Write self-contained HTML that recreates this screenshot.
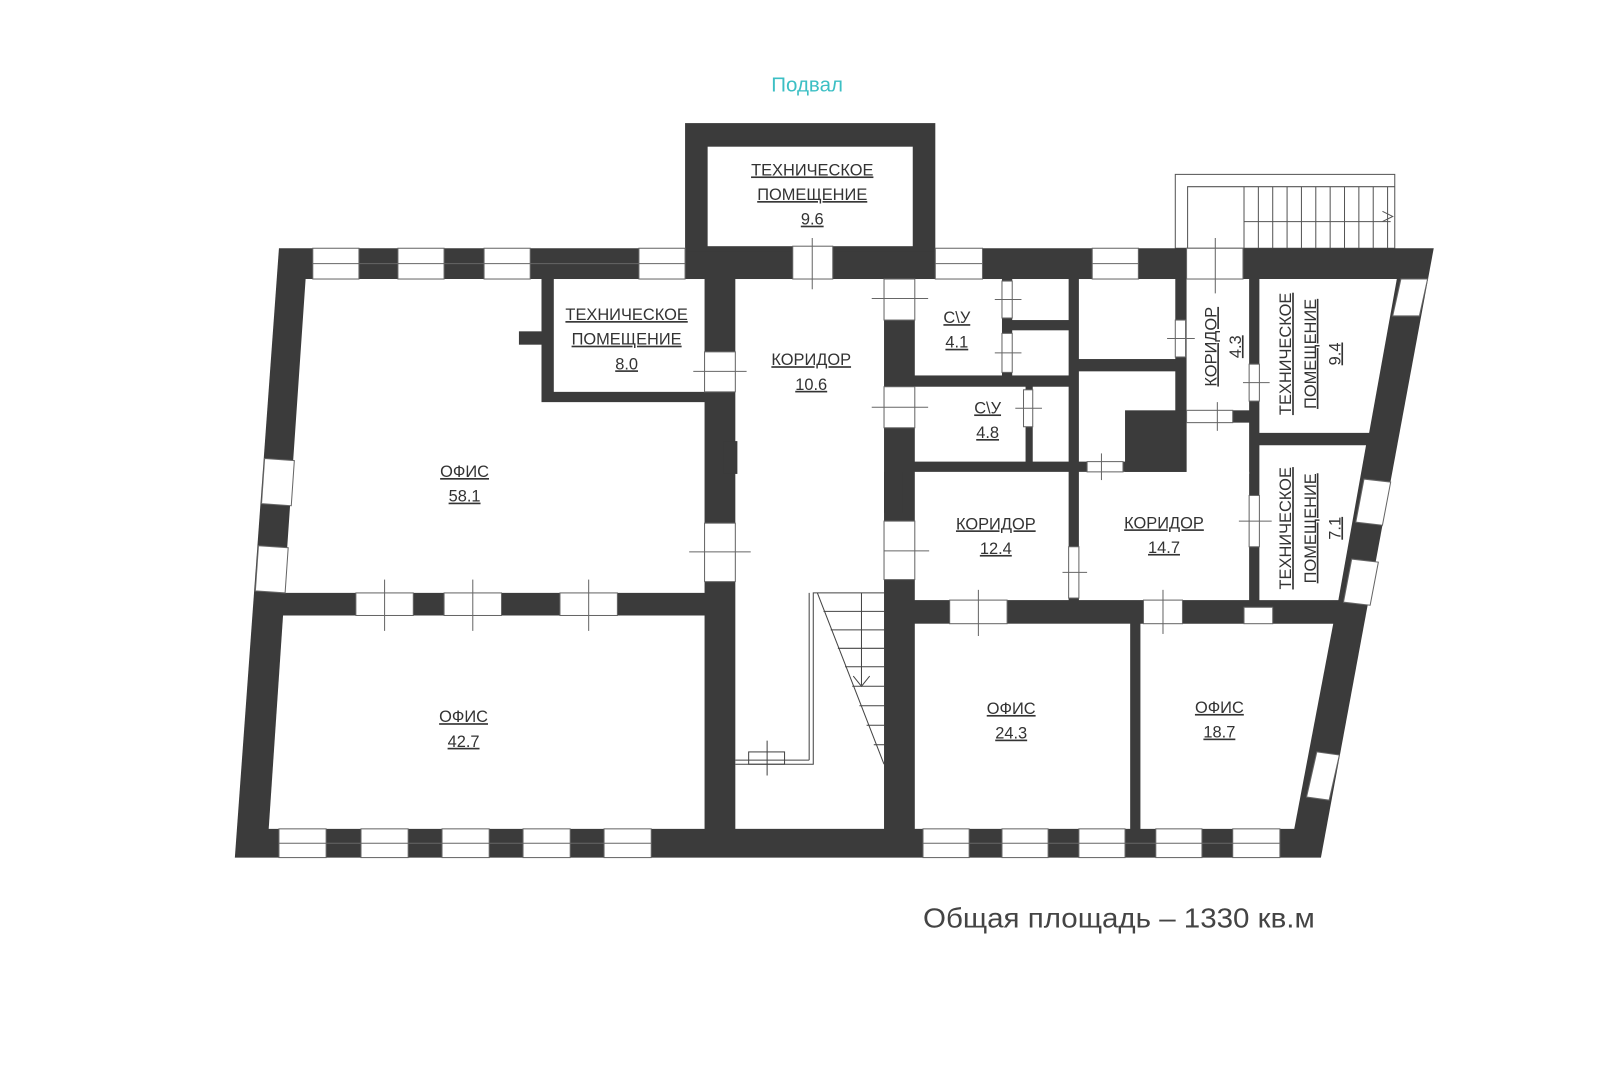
<!DOCTYPE html>
<html><head><meta charset="utf-8"><style>
html,body{margin:0;padding:0;background:#fff;width:1605px;height:1073px;overflow:hidden}
svg{display:block}
.t{font-family:"Liberation Sans","DejaVu Sans",sans-serif;font-size:16px;fill:#333;text-anchor:middle;text-decoration:underline}
</style></head><body>
<svg width="1605" height="1073" viewBox="0 0 1565 1046" preserveAspectRatio="none" xmlns="http://www.w3.org/2000/svg">
<rect width="1565" height="1046" fill="#fff"/>
<text x="787" y="89" font-family="Liberation Sans,sans-serif" font-size="20" fill="#3cbfc4" text-anchor="middle">Подвал</text>
<g fill="none" stroke="#555" stroke-width="1">
<rect x="1146" y="170" width="214" height="72"/>
<polyline points="1158,242 1158,182 1360,182"/>
<line x1="1213" y1="216" x2="1356" y2="216"/>
<polyline points="1348,206 1358,211 1348,216"/>
</g>
<g stroke="#555" stroke-width="1">
<line x1="1213" y1="182" x2="1213" y2="242"/><line x1="1227" y1="182" x2="1227" y2="242"/><line x1="1241" y1="182" x2="1241" y2="242"/><line x1="1255" y1="182" x2="1255" y2="242"/><line x1="1269" y1="182" x2="1269" y2="242"/><line x1="1283" y1="182" x2="1283" y2="242"/><line x1="1297" y1="182" x2="1297" y2="242"/><line x1="1311" y1="182" x2="1311" y2="242"/><line x1="1325" y1="182" x2="1325" y2="242"/><line x1="1339" y1="182" x2="1339" y2="242"/><line x1="1353" y1="182" x2="1353" y2="242"/>
</g>
<g fill="#3b3b3b">
<polygon points="272,242 1398,242 1288,836 229,836"/>
<rect x="668" y="120" width="244" height="125"/>
</g>
<g fill="#fff">
<rect x="690" y="143" width="200" height="97"/>
<polygon points="298,272 528,272 528,392 687,392 687,578 277,578"/>
<rect x="540" y="272" width="147" height="110"/>
<polygon points="276,600 687,600 687,808 262,808"/>
<rect x="717" y="272" width="145" height="536"/>
<rect x="892" y="272" width="85" height="94"/>
<rect x="987" y="272" width="55" height="40"/>
<rect x="987" y="322" width="55" height="44"/>
<rect x="892" y="377" width="108" height="73"/>
<rect x="1007" y="377" width="35" height="73"/>
<rect x="1052" y="272" width="94" height="78"/>
<rect x="1052" y="362" width="94" height="88"/>
<rect x="1157" y="272" width="61" height="128"/>
<polygon points="1228,272 1362,272 1335,422 1228,422"/>
<polygon points="1228,434 1332,434 1305,585 1228,585"/>
<rect x="892" y="460" width="150" height="125"/>
<rect x="1052" y="460" width="166" height="125"/>
<rect x="1157" y="412" width="61" height="50"/>
<rect x="892" y="608" width="210" height="200"/>
<polygon points="1112,608 1300,608 1262,808 1112,808"/>
</g>
<g fill="#3b3b3b">
<rect x="506" y="323" width="22" height="13"/>
<rect x="1097" y="400" width="60" height="60"/>
<rect x="705" y="430" width="14" height="32"/>
<rect x="862" y="460" width="18" height="40"/>
</g>
<g fill="#fff" stroke="#666" stroke-width="1">
<rect x="305" y="242" width="45" height="30"/><rect x="388" y="242" width="45" height="30"/><rect x="472" y="242" width="45" height="30"/><rect x="623" y="242" width="45" height="30"/><rect x="912" y="242" width="46" height="30"/><rect x="1065" y="242" width="45" height="30"/>
<rect x="773" y="240" width="39" height="32"/><rect x="1157" y="242" width="55" height="30"/>
<rect x="272" y="808" width="46" height="28"/><rect x="352" y="808" width="46" height="28"/><rect x="431" y="808" width="46" height="28"/><rect x="510" y="808" width="46" height="28"/><rect x="589" y="808" width="46" height="28"/>
<rect x="900" y="808" width="45" height="28"/><rect x="977" y="808" width="45" height="28"/><rect x="1052" y="808" width="45" height="28"/><rect x="1127" y="808" width="45" height="28"/><rect x="1202" y="808" width="46" height="28"/>
<rect x="347" y="578" width="56" height="22"/><rect x="433" y="578" width="56" height="22"/><rect x="546" y="578" width="56" height="22"/>
<rect x="687" y="343" width="30" height="39"/><rect x="687" y="510" width="30" height="57"/>
<rect x="862" y="272" width="30" height="40"/><rect x="862" y="377" width="30" height="40"/><rect x="862" y="508" width="30" height="57"/>
<rect x="977" y="274" width="10" height="36"/><rect x="977" y="325" width="10" height="38"/><rect x="998" y="380" width="9" height="36"/>
<rect x="1146" y="312" width="10" height="36"/><rect x="1218" y="355" width="10" height="36"/><rect x="1218" y="483" width="10" height="50"/>
<rect x="1157" y="400" width="45" height="12"/><rect x="1060" y="450" width="35" height="10"/><rect x="1042" y="533" width="10" height="50"/>
<rect x="926" y="585" width="56" height="23"/><rect x="1115" y="585" width="38" height="23"/><rect x="1213" y="592" width="28" height="16"/>
<polygon points="258,447 287,449 284,493 255,491"/><polygon points="252,532 281,534 278,578 249,576"/>
<polygon points="1366,272 1392,272 1384,308 1358,308"/><polygon points="1330,467 1356,470 1348,512 1322,509"/><polygon points="1318,545 1344,548 1336,590 1310,587"/><polygon points="1284,733 1306,736 1296,780 1274,777"/>
</g>
<g stroke="#666" stroke-width="1">
<line x1="305" y1="257" x2="668" y2="257"/><line x1="912" y1="257" x2="958" y2="257"/><line x1="1065" y1="257" x2="1110" y2="257"/>
<line x1="272" y1="822" x2="635" y2="822"/><line x1="900" y1="822" x2="1248" y2="822"/>
<line x1="792" y1="232" x2="792" y2="282"/><line x1="1185" y1="232" x2="1185" y2="286"/>
<line x1="375" y1="565" x2="375" y2="615"/><line x1="461" y1="565" x2="461" y2="615"/><line x1="574" y1="565" x2="574" y2="615"/>
<line x1="676" y1="362" x2="728" y2="362"/><line x1="672" y1="538" x2="732" y2="538"/>
<line x1="850" y1="291" x2="905" y2="291"/><line x1="850" y1="397" x2="905" y2="397"/><line x1="862" y1="537" x2="906" y2="537"/>
<line x1="970" y1="292" x2="996" y2="292"/><line x1="970" y1="344" x2="996" y2="344"/><line x1="990" y1="398" x2="1016" y2="398"/>
<line x1="1138" y1="330" x2="1165" y2="330"/><line x1="1212" y1="373" x2="1238" y2="373"/><line x1="1208" y1="508" x2="1240" y2="508"/>
<line x1="1187" y1="392" x2="1187" y2="420"/><line x1="1074" y1="442" x2="1074" y2="468"/><line x1="1036" y1="558" x2="1060" y2="558"/>
<line x1="954" y1="575" x2="954" y2="620"/><line x1="1134" y1="575" x2="1134" y2="618"/>
</g>
<g fill="none" stroke="#444" stroke-width="1">
<polyline points="717,745 793,745 793,578 862,578"/>
<line x1="789" y1="578" x2="789" y2="741"/>
<line x1="789" y1="741" x2="717" y2="741"/>
<rect x="730" y="733" width="35" height="12"/>
<line x1="748" y1="722" x2="748" y2="756"/>
<line x1="797" y1="578" x2="862" y2="745"/>
<line x1="840" y1="578" x2="840" y2="668"/>
<polyline points="832,659 840,669 848,659"/>
<line x1="803" y1="596" x2="862" y2="596"/><line x1="810" y1="614" x2="862" y2="614"/><line x1="817" y1="632" x2="862" y2="632"/><line x1="824" y1="650" x2="862" y2="650"/><line x1="831" y1="669" x2="862" y2="669"/><line x1="838" y1="688" x2="862" y2="688"/><line x1="845" y1="707" x2="862" y2="707"/><line x1="852" y1="726" x2="862" y2="726"/>
</g>
<g class="t">
<text x="792" y="171">ТЕХНИЧЕСКОЕ</text><text x="792" y="195">ПОМЕЩЕНИЕ</text><text x="792" y="219">9.6</text>
<text x="611" y="312">ТЕХНИЧЕСКОЕ</text><text x="611" y="336">ПОМЕЩЕНИЕ</text><text x="611" y="360">8.0</text>
<text x="791" y="356">КОРИДОР</text><text x="791" y="380">10.6</text>
<text x="453" y="465">ОФИС</text><text x="453" y="489">58.1</text>
<text x="452" y="704">ОФИС</text><text x="452" y="728">42.7</text>
<text x="933" y="315">С\У</text><text x="933" y="339">4.1</text>
<text x="963" y="403">С\У</text><text x="963" y="427">4.8</text>
<text x="971" y="516">КОРИДОР</text><text x="971" y="540">12.4</text>
<text x="1135" y="515">КОРИДОР</text><text x="1135" y="539">14.7</text>
<text x="986" y="696">ОФИС</text><text x="986" y="720">24.3</text>
<text x="1189" y="695">ОФИС</text><text x="1189" y="719">18.7</text>
<text transform="translate(1186,338) rotate(-90)">КОРИДОР</text><text transform="translate(1210,338) rotate(-90)">4.3</text>
<text transform="translate(1259,345) rotate(-90)">ТЕХНИЧЕСКОЕ</text><text transform="translate(1283,345) rotate(-90)">ПОМЕЩЕНИЕ</text><text transform="translate(1307,345) rotate(-90)">9.4</text>
<text transform="translate(1259,515) rotate(-90)">ТЕХНИЧЕСКОЕ</text><text transform="translate(1283,515) rotate(-90)">ПОМЕЩЕНИЕ</text><text transform="translate(1307,515) rotate(-90)">7.1</text>
</g>
<text x="900" y="904" font-family="Liberation Sans,sans-serif" font-size="27" fill="#444" textLength="382" lengthAdjust="spacingAndGlyphs">Общая площадь – 1330 кв.м</text>
</svg>
</body></html>
